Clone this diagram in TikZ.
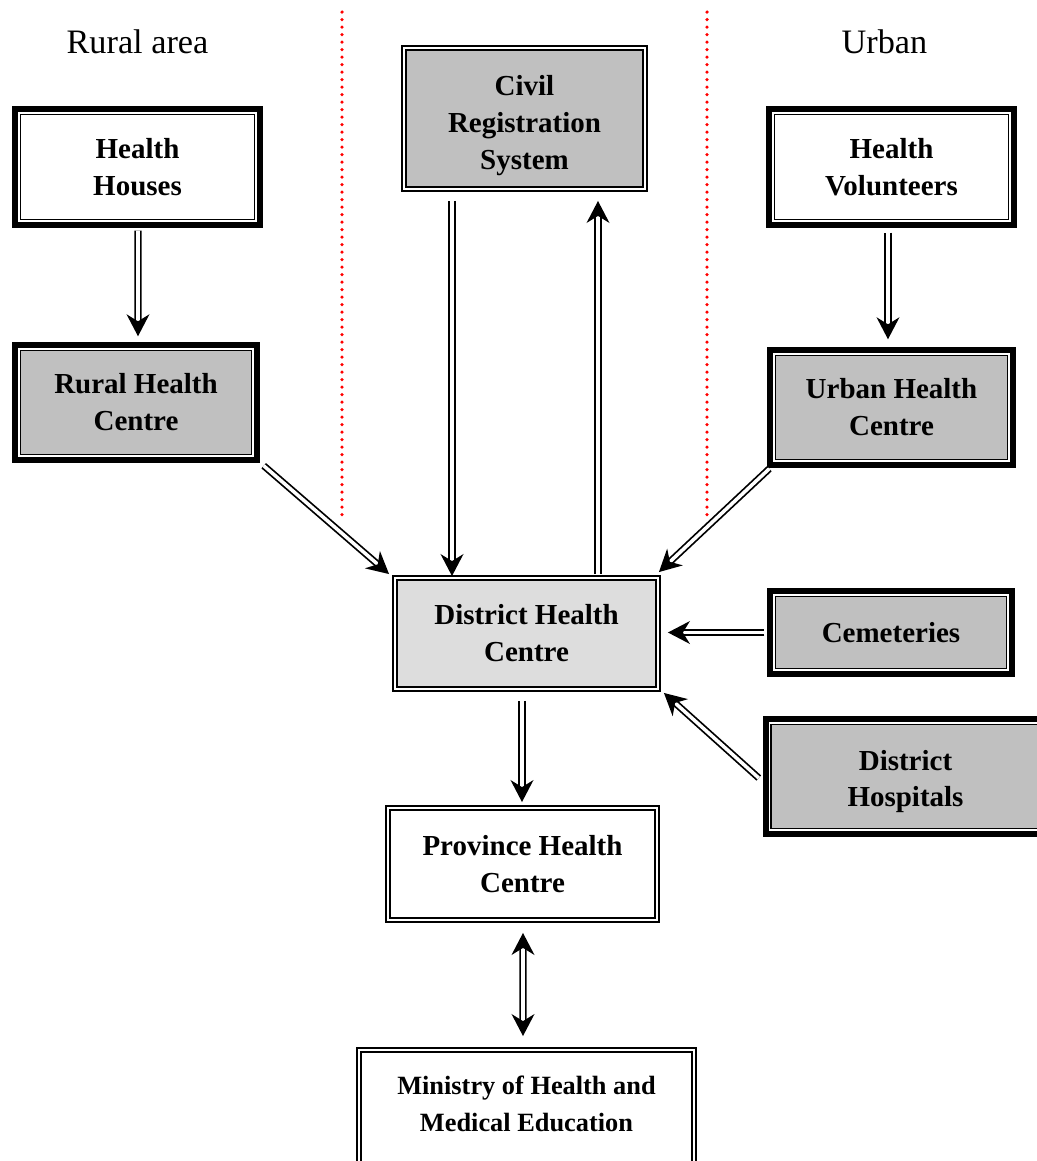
\documentclass[tikz,border=0pt]{standalone}
\usepackage{fontspec}
\setmainfont{Liberation Serif}
\usetikzlibrary{arrows.meta}
\definecolor{boxgray}{HTML}{C0C0C0}
\definecolor{centregray}{HTML}{DDDDDD}
\begin{document}
\begin{tikzpicture}[x=0.02cm, y=-0.02cm,
  heavy/.style={draw, line width=0.85pt, double=white, double distance=1.1pt,
    preaction={draw, line width=7.9pt}, fill=#1, align=center,
    font=\bfseries\fontsize{16.5}{21}\selectfont},
  heavy/.default=white,
  light/.style={draw, line width=1.1pt, double=white, double distance=1.2pt,
    fill=#1, align=center, font=\bfseries\fontsize{16.5}{21}\selectfont},
  light/.default=white,
  tip/.tip={Stealth[length=12.5pt,width=13pt,inset=4pt]},
  flow/.style={line width=1pt, double=white, double distance=2pt, -tip},
  zone/.style={anchor=base, font=\fontsize{19.5}{23}\selectfont},
  divider/.style={red, line width=2pt, line cap=round, dash pattern=on 0pt off 4.27pt}]
\useasboundingbox (0,0) rectangle (1036,1161);
\node[zone] (rural) at (137.5,53){Rural area};
\node[zone] (urban) at (884.5,53){Urban};
\draw[divider] (342,12) -- (342,515);
\draw[divider] (707,12) -- (707,515);
\node[heavy, minimum width=4.74cm, minimum height=2.16cm] (hhouse) at (137.5,167){Health\\Houses};
\node[heavy=boxgray, minimum width=4.68cm, minimum height=2.14cm] (rural hc) at (136,402.5){Rural Health\\Centre};
\node[light=boxgray, minimum width=4.82cm, minimum height=2.82cm, text height=58.2pt, text depth=-1.5pt] (civil) at (524.5,118.5){Civil\\Registration\\System};
\node[heavy, minimum width=4.74cm, minimum height=2.16cm] (volunteer) at (891.5,167){Health\\Volunteers};
\node[heavy=boxgray, minimum width=4.70cm, minimum height=2.14cm] (urban hc) at (891.5,407.5){Urban Health\\Centre};
\node[light=centregray, minimum width=5.26cm, minimum height=2.22cm] (district hc) at (526.5,633.5){District Health\\Centre};
\node[heavy=boxgray, minimum width=4.68cm, minimum height=1.50cm] (cemetery) at (891,632.5){Cemeteries};
\node[heavy=boxgray, minimum width=5.44cm, minimum height=2.14cm, text height=35.2pt, text depth=0.5pt] (hospital) at (905.5,776.5){District\\Hospitals};
\node[light, minimum width=5.38cm, minimum height=2.24cm] (province) at (522.5,864){Province Health\\Centre};
\node[light, minimum width=6.70cm, minimum height=2.28cm, text height=29.5pt, text depth=1.7pt, font=\bfseries\fontsize{15}{21}\selectfont] (ministry) at (526.5,1107){Ministry of Health and\\Medical Education};
\draw[flow]([shift={(0.5,9)}]hhouse.south) -- ([shift={(2,-12)}]rural hc.north);
\draw[flow]([shift={(-72.5,11)}]civil.south) -- ([shift={(-74.5,-1)}]district hc.north);
\draw[flow]([shift={(71.5,-3)}]district hc.north) -- ([shift={(73.5,11)}]civil.south);
\draw[flow]([shift={(-3.5,11)}]volunteer.south) -- ([shift={(-3.5,-14)}]urban hc.north);
\draw[flow]([shift={(10,9)}]rural hc.south east) -- ([shift={(-5,-3)}]district hc.north west);
\draw[flow]([shift={(-4,7)}]urban hc.south west) -- ([shift={(0,-5)}]district hc.north east);
\draw[flow]([shift={(-9,0)}]cemetery.west) -- ([shift={(9,-1)}]district hc.east);
\draw[flow]([shift={(-10,1.5)}]hospital.west) -- ([shift={(5,3)}]district hc.south east);
\draw[flow]([shift={(-4.5,11)}]district hc.south) -- ([shift={(-0.5,-5)}]province.north);
\draw[flow, tip-tip]([shift={(0.5,12)}]province.south) -- ([shift={(-3.5,-13)}]ministry.north);
\end{tikzpicture}
\end{document}
